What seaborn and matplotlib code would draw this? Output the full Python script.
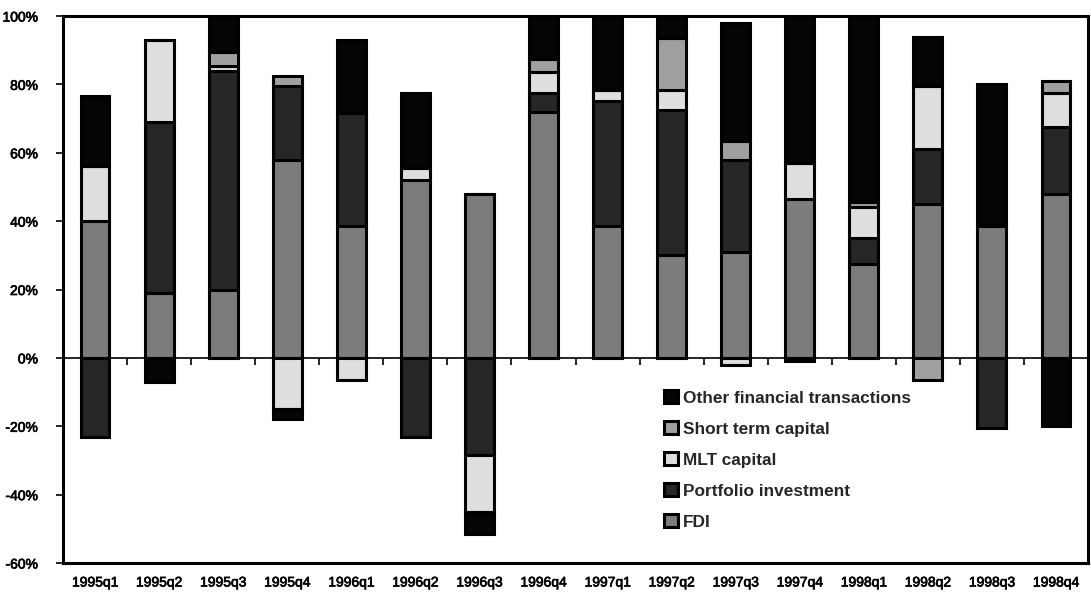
import numpy as np
import pandas as pd
import matplotlib
matplotlib.use("Agg")
import matplotlib.pyplot as plt
import matplotlib.patheffects as pe
import seaborn as sns

# Quarterly composition of capital flows, percent of total
quarters = ["1995q1", "1995q2", "1995q3", "1995q4", "1996q1", "1996q2", "1996q3", "1996q4",
            "1997q1", "1997q2", "1997q3", "1997q4", "1998q1", "1998q2", "1998q3", "1998q4"]
fdi        = [40, 19, 20, 58, 38.5, 52, 48, 72, 38.5, 30, 31, 46.5, 27.5, 45, 38.5, 48]
portfolio  = [-23, 50, 64, 21.5, 33, -23, -28.5, 5.5, 36.5, 42.5, 27, -1, 7.5, 16, -20.5, 19.5]
mlt        = [16, 24, 1.5, -15, -6.5, 3.5, -16.5, 6, 3.5, 6, -2, 10.5, 9, 18.5, 0.5, 10]
short_term = [0, 0, 4, 3, 0, 0, 0, 4, 0, 15, 5.5, 0, 1.5, -6.5, 0, 3.5]
other      = [20.5, -7, 14, -3, 21.5, 22, -6.5, 14, 23, 9, 34.5, 45, 58, 14.5, 41, -20]

series_names = ["FDI", "Portfolio investment", "MLT capital",
                "Short term capital", "Other financial transactions"]
series_values = [fdi, portfolio, mlt, short_term, other]
fill_colors = ["#7c7c7c", "#262626", "#dedede", "#a0a0a0", "#050505"]

y_ticks = [-60, -40, -20, 0, 20, 40, 60, 80, 100]

sns.set_theme(style="white")
plt.rcParams["font.family"] = ["Liberation Sans", "DejaVu Sans"]
plt.rcParams["axes.unicode_minus"] = False

fig = plt.figure(figsize=(10.91, 5.99), dpi=100)
ax = fig.add_axes([63 / 1091, 36 / 599, 1025 / 1091, 547 / 599])

# Stack positive parts upward from zero and negative parts downward
pos_base = np.zeros(len(quarters))
neg_base = np.zeros(len(quarters))
for name, vals, col in zip(series_names, series_values, fill_colors):
    v = np.asarray(vals, dtype=float)
    bottom = np.where(v >= 0, pos_base, neg_base)
    df = pd.DataFrame({"quarter": quarters, "share": v})
    sns.barplot(data=df, x="quarter", y="share", order=quarters, bottom=bottom,
                color=col, saturation=1, width=0.45, edgecolor="black",
                linewidth=2.2, errorbar=None, label=name, legend=False, ax=ax)
    pos_base = pos_base + np.clip(v, 0, None)
    neg_base = neg_base + np.clip(v, None, 0)

if ax.get_legend() is not None:
    ax.get_legend().remove()

ymin, ymax = -60, 100
ax.set_ylim(ymin, ymax)
ax.set_xlim(-0.5, len(quarters) - 0.5)
ax.set_xlabel("")
ax.set_ylabel("")
ax.set_yticks(y_ticks)
ax.set_yticklabels([f"{t}%" for t in y_ticks])
ax.tick_params(axis="y", left=True, direction="out", length=5, width=1.2,
               pad=13, labelsize=10, colors="black")
ax.tick_params(axis="x", bottom=True, length=0, pad=9, labelsize=10, colors="black")
heavy = [pe.withStroke(linewidth=0.5, foreground="black")]
for lbl in ax.get_xticklabels() + ax.get_yticklabels():
    lbl.set_path_effects(heavy)
for s in ax.spines.values():
    s.set_visible(True)
    s.set_color("black")
    s.set_linewidth(2.2)

# Zero line with category boundary ticks
zero_axis = ax.secondary_xaxis((0 - ymin) / (ymax - ymin))
zero_axis.set_xticks(np.arange(len(quarters) + 1) - 0.5)
zero_axis.set_xticklabels([])
zero_axis.tick_params(axis="x", bottom=True, top=False, direction="out",
                      length=5, width=1.2, colors="black")
for s in zero_axis.spines.values():
    s.set_color("black")
    s.set_linewidth(1.2)

handles, labels = ax.get_legend_handles_labels()
fig.legend(handles[::-1], labels[::-1], loc="upper left",
           bbox_to_anchor=(664 / 1091, 1 - 390 / 599), frameon=False,
           prop={"weight": "bold", "size": 12.4}, handlelength=0.8,
           handleheight=0.8, handletextpad=0.3, labelspacing=0.9,
           borderpad=0, borderaxespad=0)

fig.savefig("out.png", dpi=100)
